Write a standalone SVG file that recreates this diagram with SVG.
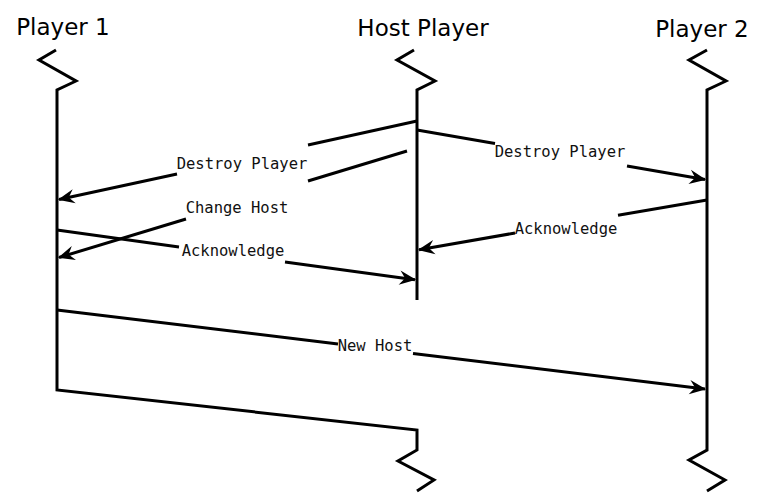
<svg xmlns="http://www.w3.org/2000/svg" width="765" height="493" viewBox="0 0 765 493">
<style>
.title{font-family:"DejaVu Sans",sans-serif;font-size:23px;fill:#000;text-anchor:middle}
.lbl{font-family:"DejaVu Sans Mono",monospace;font-size:15.5px;fill:#111;text-anchor:middle}
.life{fill:none;stroke:#000;stroke-width:3;stroke-linejoin:miter}
.msg{fill:none;stroke:#000;stroke-width:3}
</style>
<defs>
<marker id="arr" markerUnits="userSpaceOnUse" markerWidth="20" markerHeight="20" viewBox="-16 -8 18 16" refX="0" refY="0" orient="auto">
<path d="M1,0 L-14,-6.5 L-9,0 L-14,6.5 Z" fill="#000"/>
</marker>
</defs>
<rect width="765" height="493" fill="#fff"/>
<g id="player1">
<text class="title" x="63" y="35">Player 1</text>
<path class="life" d="M56,50 L39,60 L76,81 L57,90 L57,390 L417,430 L417,450 L398,461 L434,480 L417,491"/>
</g>
<g id="host">
<text class="title" x="423" y="36">Host Player</text>
<path class="life" d="M414,50 L397,60 L435,81 L417,90 L417,300"/>
</g>
<g id="player2">
<text class="title" x="702" y="37">Player 2</text>
<path class="life" d="M707,50 L689,60 L726,81 L707,90 L707,450 L689,460 L725,480 L707,491"/>
</g>
<g id="connectors">
<path class="msg" d="M417,121 L308,145"/>
<path class="msg" d="M177,174 L59,199.5" marker-end="url(#arr)"/>
<text class="lbl" x="242" y="169">Destroy Player</text>
<path class="msg" d="M417,130 L495,143.4"/>
<path class="msg" d="M627,166 L705,179.5" marker-end="url(#arr)"/>
<text class="lbl" x="560" y="157">Destroy Player</text>
<path class="msg" d="M407,151 L308,181"/>
<path class="msg" d="M186,219 L59,257.5" marker-end="url(#arr)"/>
<text class="lbl" x="237" y="213">Change Host</text>
<path class="msg" d="M57,230 L179,247"/>
<path class="msg" d="M285,262 L415,279.7" marker-end="url(#arr)"/>
<text class="lbl" x="233" y="256">Acknowledge</text>
<path class="msg" d="M707,200 L618,215.3"/>
<path class="msg" d="M515,233 L419,249.7" marker-end="url(#arr)"/>
<text class="lbl" x="566" y="234">Acknowledge</text>
<path class="msg" d="M57,310 L338,344"/>
<path class="msg" d="M413,353.5 L705,389" marker-end="url(#arr)"/>
<text class="lbl" x="375" y="351">New Host</text>
</g>
</svg>
